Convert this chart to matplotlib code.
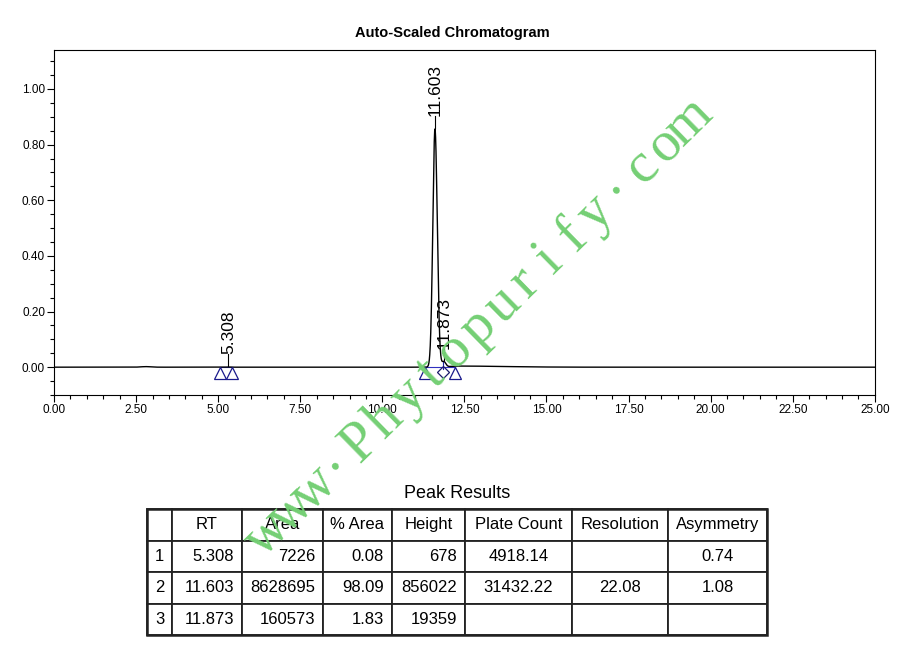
import matplotlib
matplotlib.use("Agg")
import matplotlib.pyplot as plt
import numpy as np
from matplotlib.ticker import MultipleLocator, FormatStrFormatter

plt.rcParams["font.family"] = ["Liberation Sans", "DejaVu Sans"]

# peak table (heights in uV)
PEAK_NO = [1, 2, 3]
RT = [5.308, 11.603, 11.873]
AREA = [7226, 8628695, 160573]
PCT_AREA = [0.08, 98.09, 1.83]
HEIGHT = [678, 856022, 19359]
PLATES = [4918.14, 31432.22, None]
RESOLUTION = [None, 22.08, None]
ASYM = [0.74, 1.08, None]

# small baseline features (rt, height V, sigma left, sigma right)
BASE_RT = [2.80, 12.30]
BASE_H = [0.002, 0.004]
BASE_SL = [0.15, 0.25]
BASE_SR = [0.15, 1.40]

# integration marks
TRI_X = [5.05, 5.42, 11.30, 12.21]
DIAMOND_X = [11.84]
BASELINE_SEG = [(5.05, 5.42), (11.30, 12.21)]

WATERMARK = "www\u00b7Phytopurify\u00b7com"

W, H = 916, 672


def peak(x, rt, h, sl, sr):
    s = np.where(x < rt, sl, sr)
    return h * np.exp(-0.5 * ((x - rt) / s) ** 2)


def main():
    fig = plt.figure(figsize=(W / 100, H / 100), dpi=100)
    ax = fig.add_axes([0.059, 0.4122, 0.896, 0.5134])

    x = np.linspace(0, 25, 8001)
    y = np.zeros_like(x)
    for rt, h, n, a in zip(RT, HEIGHT, PLATES, ASYM):
        s = rt / np.sqrt(n) if n else 0.06
        a = a or 1.0
        y += peak(x, rt, h / 1e6, s, s * a)
    for rt, h, sl, sr in zip(BASE_RT, BASE_H, BASE_SL, BASE_SR):
        y += peak(x, rt, h, sl, sr)
    ax.plot(x, y, color="black", lw=1.0, zorder=3)

    for x0, x1 in BASELINE_SEG:
        ax.plot([x0, x1], [0, 0], color="#3030c0", lw=0.8, zorder=2)
    ax.plot(TRI_X, [-0.022] * len(TRI_X), ls="none", marker="^", ms=9,
            mfc="none", mec="#1a1a8c", mew=0.9, zorder=4)
    ax.plot(DIAMOND_X, [-0.016] * len(DIAMOND_X), ls="none", marker="D", ms=6,
            mfc="none", mec="#1a1a6c", mew=0.9, zorder=4)
    ax.plot([DIAMOND_X[0]] * 2, [-0.005, 0.02], color="#2020a0", lw=0.8, zorder=2)

    for rt, h in zip(RT, HEIGHT):
        top = h / 1e6
        ax.plot([rt, rt], [top + 0.005, top + 0.045], color="black", lw=0.8)
        ax.text(rt, top + 0.045, f"{rt:.3f}", rotation=90, ha="center",
                va="bottom", fontsize=12.5)

    ax.set_xlim(0, 25)
    ax.set_ylim(-0.10, 1.14)
    ax.xaxis.set_major_locator(MultipleLocator(2.5))
    ax.xaxis.set_minor_locator(MultipleLocator(0.5))
    ax.yaxis.set_major_locator(MultipleLocator(0.2))
    ax.yaxis.set_minor_locator(MultipleLocator(0.05))
    ax.xaxis.set_major_formatter(FormatStrFormatter("%.2f"))
    ax.yaxis.set_major_formatter(FormatStrFormatter("%.2f"))
    ax.tick_params(which="major", length=5, width=0.8, labelsize=8.5, pad=1.5)
    ax.tick_params(which="minor", length=3, width=0.8)
    for sp in ax.spines.values():
        sp.set_linewidth(0.8)

    fig.text(0.494, 0.951, "Auto-Scaled Chromatogram", ha="center", va="center",
             fontsize=10.5, fontweight="bold")

    # peak results table
    cols = ["", "RT", "Area", "% Area", "Height", "Plate Count", "Resolution", "Asymmetry"]
    widths_px = [25, 70, 81, 69, 73, 107, 96, 99]
    aligns = ["left", "right", "right", "right", "right", "center", "center", "center"]
    rows = []
    for i in range(len(RT)):
        rows.append([
            str(PEAK_NO[i]), f"{RT[i]:.3f}", str(AREA[i]), f"{PCT_AREA[i]:.2f}",
            str(HEIGHT[i]),
            f"{PLATES[i]:.2f}" if PLATES[i] else "",
            f"{RESOLUTION[i]:.2f}" if RESOLUTION[i] else "",
            f"{ASYM[i]:.2f}" if ASYM[i] else "",
        ])
    tax = fig.add_axes([147 / W, 1 - 635 / H, 620 / W, 126 / H])
    tax.axis("off")
    total = sum(widths_px)
    tbl = tax.table(cellText=rows, colLabels=cols, bbox=[0, 0, 1, 1],
                    colWidths=[w / total for w in widths_px])
    tbl.auto_set_font_size(False)
    for (r, c), cell in tbl.get_celld().items():
        cell.set_linewidth(1.3)
        cell.set_edgecolor("#222222")
        cell.get_text().set_fontsize(12)
        cell.PAD = 8 / widths_px[c]
        if r == 0:
            cell.get_text().set_horizontalalignment("center")
        else:
            cell._loc = aligns[c]
            cell.get_text().set_horizontalalignment(aligns[c])
    tax.add_patch(plt.Rectangle((0, 0), 1, 1, transform=tax.transAxes, fill=False,
                                lw=1.8, ec="#222222", clip_on=False, zorder=5))
    fig.text(457 / W, 1 - 494 / H, "Peak Results", ha="center", va="center",
             fontsize=13)

    # watermark, monospaced letters along a diagonal (pixel positions, y up)
    x0, y0 = 268, H - 535
    x1, y1 = 690, H - 122
    n = len(WATERMARK) - 1
    ang = np.arctan2(y1 - y0, x1 - x0)
    nx, ny = -np.sin(ang), np.cos(ang)
    for i, ch in enumerate(WATERMARK):
        px = x0 + (x1 - x0) * i / n - 13 * nx
        py = y0 + (y1 - y0) * i / n - 13 * ny
        fig.text(px / W, py / H, ch, rotation=np.degrees(ang),
                 rotation_mode="anchor", ha="center", va="baseline",
                 fontsize=41, color="#74cf74",
                 family=["Liberation Serif", "DejaVu Serif"], zorder=10)

    fig.savefig("out.png", dpi=100)
    plt.close(fig)


if __name__ == "__main__":
    main()
